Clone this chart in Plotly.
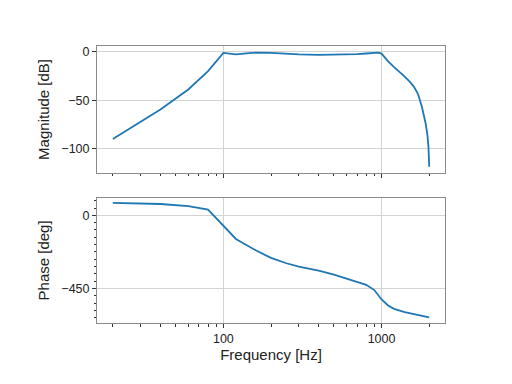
import plotly.graph_objects as go

# Magnitude response
mag_freq = [20, 40, 60, 80, 100, 120, 140, 160, 200, 250, 300, 400, 500, 600,
            700, 800, 900, 950, 1000, 1100, 1200, 1300, 1400, 1500, 1600, 1700,
            1800, 1900, 1950, 1980, 2000]
mag_db = [-90, -59.5, -39, -20, -1.3, -2.8, -1.8, -1.0, -1.2, -2.2, -2.9, -3.3,
          -3.3, -3.1, -2.6, -1.9, -1.1, -1.0, -2.0, -10, -16, -20.6, -25.8,
          -30.6, -36, -43.6, -57, -74, -86, -99, -118.5]

# Phase response
ph_freq = [20, 40, 60, 80, 120, 140, 160, 200, 250, 300, 400, 500, 600, 700,
           800, 900, 1000, 1100, 1200, 1400, 1600, 1800, 2000]
ph_deg = [77, 70, 57, 35, -145, -185, -215, -262, -295, -315, -340, -365, -388,
          -407, -428, -460, -518, -555, -576, -596, -608, -619, -628]

x_major = [100, 1000]
x_minor = [20, 30, 40, 50, 60, 70, 80, 90, 200, 300, 400, 500, 600, 700, 800,
           900, 2000]
mag_ticks = [0, -50, -100]
ph_ticks = [0, -450]

LINE = "#1f77b4"
FRAME = "#8a8a8a"
GRID = "#d3d3d3"
TICK = "#333333"
FONT = "Liberation Sans, Arial, sans-serif"

fig = go.Figure()
fig.add_trace(go.Scatter(x=mag_freq, y=mag_db, mode="lines",
                         line=dict(color=LINE, width=1.8),
                         xaxis="x", yaxis="y", showlegend=False))
fig.add_trace(go.Scatter(x=ph_freq, y=ph_deg, mode="lines",
                         line=dict(color=LINE, width=1.8),
                         xaxis="x2", yaxis="y2", showlegend=False))

xcommon = dict(type="log", range=[1.201, 3.401], tickmode="array",
               tickvals=x_major, ticktext=[str(v) for v in x_major],
               showgrid=True, gridcolor=GRID, gridwidth=1,
               showline=True, linecolor=FRAME, linewidth=1, mirror=True,
               ticks="outside", ticklen=4, tickcolor=TICK, tickwidth=1,
               minor=dict(tickmode="array", tickvals=x_minor, ticks="outside",
                          ticklen=2.5, tickcolor=TICK, showgrid=False),
               zeroline=False, tickfont=dict(size=12.5, color="#222222"))

ycommon = dict(showgrid=True, gridcolor=GRID, gridwidth=1,
               showline=True, linecolor=FRAME, linewidth=1, mirror=True,
               ticks="outside", ticklen=4, tickcolor=TICK, tickwidth=1,
               zeroline=False, tickfont=dict(size=12.5, color="#222222"),
               tickmode="array")

fig.update_layout(
    width=504, height=376,
    margin=dict(l=88.7, r=66.7, t=38, b=61.3),
    paper_bgcolor="white", plot_bgcolor="white",
    font=dict(family=FONT, color="#222222"),
    xaxis=dict(xcommon, domain=[0, 1], anchor="y", showticklabels=False),
    yaxis=dict(ycommon, domain=[0.542, 1], anchor="x",
               range=[-124.8, 5.8], tickvals=mag_ticks,
               title=dict(text="Magnitude [dB]", font=dict(size=15),
                          standoff=8)),
    xaxis2=dict(xcommon, domain=[0, 1], anchor="y2",
                title=dict(text="Frequency [Hz]", font=dict(size=15),
                           standoff=4)),
    yaxis2=dict(ycommon, domain=[0, 0.4518], anchor="x2",
                range=[-663, 108], tickvals=ph_ticks,
                minor=dict(dtick=45, tick0=0, ticks="outside", ticklen=2.5,
                           tickcolor=TICK, showgrid=False),
                title=dict(text="Phase [deg]", font=dict(size=15),
                           standoff=8)),
)

fig.write_html("out.html")
